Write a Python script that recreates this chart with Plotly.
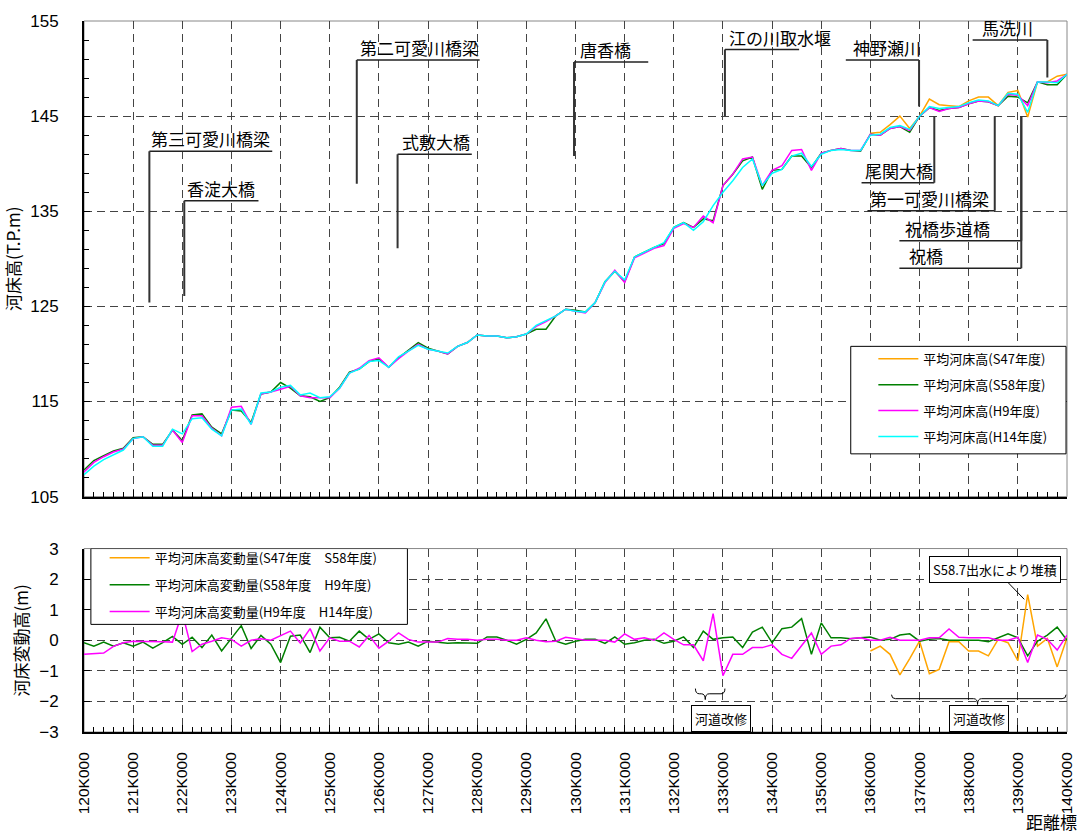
import plotly.graph_objects as go

# distance stations (km), every 200 m
DIST_KM = [
    120.0, 120.2, 120.4, 120.6, 120.8, 121.0, 121.2, 121.4, 121.6, 121.8,
    122.0, 122.2, 122.4, 122.6, 122.8, 123.0, 123.2, 123.4, 123.6, 123.8,
    124.0, 124.2, 124.4, 124.6, 124.8, 125.0, 125.2, 125.4, 125.6, 125.8,
    126.0, 126.2, 126.4, 126.6, 126.8, 127.0, 127.2, 127.4, 127.6, 127.8,
    128.0, 128.2, 128.4, 128.6, 128.8, 129.0, 129.2, 129.4, 129.6, 129.8,
    130.0, 130.2, 130.4, 130.6, 130.8, 131.0, 131.2, 131.4, 131.6, 131.8,
    132.0, 132.2, 132.4, 132.6, 132.8, 133.0, 133.2, 133.4, 133.6, 133.8,
    134.0, 134.2, 134.4, 134.6, 134.8, 135.0, 135.2, 135.4, 135.6, 135.8,
    136.0, 136.2, 136.4, 136.6, 136.8, 137.0, 137.2, 137.4, 137.6, 137.8,
    138.0, 138.2, 138.4, 138.6, 138.8, 139.0, 139.2, 139.4, 139.6, 139.8,
    140.0,
]
DIST_KM_S47 = DIST_KM[80:]  # S47 survey only covers 136K-140K

TICK_KM = [120, 121, 122, 123, 124, 125, 126, 127, 128, 129, 130,
           131, 132, 133, 134, 135, 136, 137, 138, 139, 140]
TICK_TEXT = ["120K000", "121K000", "122K000", "123K000", "124K000", "125K000",
             "126K000", "127K000", "128K000", "129K000", "130K000", "131K000",
             "132K000", "133K000", "134K000", "135K000", "136K000", "137K000",
             "138K000", "139K000", "140K000"]

# mean bed elevation (T.P. m)
BED_S47 = [
    143.2, 143.3, 144.1, 145.0, 143.7, 145.0, 146.8, 146.2, 146.1, 146.0,
    146.6, 147.0, 147.0, 146.1, 147.5, 147.7, 144.9, 148.6, 148.6, 149.2,
    149.4,
]
BED_S58 = [
    107.8, 108.8, 109.3, 109.8, 110.1, 111.2, 111.3, 110.5, 110.5, 112.0,
    110.9, 113.6, 113.7, 112.3, 111.6, 114.1, 114.0, 112.8, 115.8, 116.0,
    117.0, 116.4, 115.6, 115.5, 115.0, 115.4, 116.5, 118.1, 118.4, 119.2,
    119.5, 118.6, 119.6, 120.4, 121.2, 120.6, 120.3, 120.0, 120.8, 121.2,
    122.0, 121.9, 121.9, 121.7, 121.8, 122.1, 122.6, 122.6, 124.0, 124.7,
    124.6, 124.4, 125.4, 127.6, 128.7, 127.6, 130.2, 130.7, 131.2, 131.6,
    133.3, 133.8, 133.3, 134.2, 134.0, 137.7, 138.9, 140.3, 140.7, 137.3,
    139.3, 139.4, 140.8, 140.8, 139.6, 141.1, 141.4, 141.6, 141.4, 141.3,
    143.1, 143.0, 143.7, 143.9, 143.3, 145.0, 145.9, 145.6, 145.8, 145.9,
    146.3, 146.6, 146.5, 146.1, 147.1, 147.0, 146.4, 148.6, 148.3, 148.3,
    149.4,
]
BED_H9 = [
    107.6, 108.6, 109.2, 109.7, 110.0, 111.1, 111.3, 110.4, 110.4, 112.0,
    110.7, 113.5, 113.5, 112.2, 111.4, 114.4, 114.5, 112.6, 115.8, 116.0,
    116.3, 116.6, 115.6, 115.4, 115.4, 115.4, 116.4, 118.0, 118.5, 119.3,
    119.6, 118.6, 119.5, 120.3, 121.0, 120.5, 120.3, 120.0, 120.8, 121.2,
    122.0, 121.9, 121.9, 121.7, 121.8, 122.1, 122.9, 123.4, 124.0, 124.7,
    124.5, 124.3, 125.4, 127.5, 128.8, 127.5, 130.1, 130.6, 131.1, 131.4,
    133.2, 133.7, 133.3, 134.5, 133.8, 137.7, 138.9, 140.5, 140.7, 137.7,
    139.3, 139.8, 141.4, 141.5, 139.3, 141.1, 141.4, 141.6, 141.4, 141.4,
    143.1, 143.0, 143.7, 143.9, 143.5, 145.0, 145.9, 145.5, 145.8, 145.9,
    146.3, 146.6, 146.5, 146.1, 147.3, 147.2, 146.1, 148.6, 148.5, 148.7,
    149.4,
]
BED_H14 = [
    107.3, 108.2, 108.9, 109.4, 109.9, 111.1, 111.3, 110.3, 110.3, 112.1,
    111.6, 113.2, 113.3, 112.1, 111.4, 114.1, 114.2, 112.6, 115.9, 116.0,
    116.5, 116.7, 115.7, 115.9, 115.4, 115.5, 116.4, 118.0, 118.4, 119.2,
    119.3, 118.6, 119.7, 120.3, 120.9, 120.5, 120.3, 120.1, 120.8, 121.2,
    122.0, 121.9, 121.9, 121.7, 121.8, 122.1, 123.0, 123.5, 124.0, 124.7,
    124.5, 124.4, 125.4, 127.6, 128.7, 127.8, 130.2, 130.7, 131.2, 131.7,
    133.3, 133.8, 133.0, 133.9, 135.6, 137.0, 138.2, 139.6, 140.5, 137.7,
    139.0, 139.4, 140.8, 141.1, 139.7, 141.0, 141.4, 141.5, 141.4, 141.4,
    143.0, 143.1, 143.8, 144.0, 143.6, 145.0, 146.0, 145.8, 145.9, 146.0,
    146.4, 146.7, 146.6, 146.1, 147.4, 147.3, 145.4, 148.6, 148.6, 148.5,
    149.4,
]

# change of mean bed elevation (m)
CHG_S47_S58 = [
    -0.35, -0.19, -0.46, -1.13, -0.60, -0.03, -1.09, -0.95, -0.05, -0.05,
    -0.35, -0.35, -0.51, 0.03, -0.08, -0.67, 1.49, -0.19, 0.06, -0.87,
    0.08,
]
CHG_S58_H9 = [
    -0.08, -0.19, -0.06, -0.19, -0.08, -0.19, -0.06, -0.26, -0.08, 0.13,
    -0.13, 0.10, -0.24, 0.17, -0.35, 0.05, 0.48, -0.27, 0.16, -0.13,
    -0.73, 0.13, 0.17, -0.40, 0.43, 0.08, 0.10, -0.03, 0.30, 0.03,
    0.21, -0.08, -0.13, -0.06, -0.19, -0.03, -0.06, -0.10, -0.08, -0.10,
    -0.10, 0.11, 0.11, 0.00, -0.13, 0.03, 0.24, 0.70, -0.03, -0.13,
    -0.03, 0.03, 0.03, -0.10, 0.11, -0.13, -0.08, 0.00, 0.03, -0.10,
    -0.03, 0.11, -0.24, 0.30, 0.03, 0.08, 0.11, -0.24, 0.27, 0.43,
    -0.08, 0.38, 0.43, 0.71, -0.46, 0.57, 0.08, 0.08, 0.05, 0.08,
    0.11, 0.00, 0.03, 0.17, 0.21, -0.03, 0.03, 0.06, 0.00, 0.00,
    0.00, 0.00, -0.05, 0.08, 0.21, 0.08, -0.51, -0.03, 0.17, 0.43,
    0.00,
]
CHG_H9_H14 = [
    -0.46, -0.44, -0.42, -0.20, -0.08, -0.03, -0.03, -0.03, -0.05, -0.06,
    0.90, -0.37, -0.13, -0.03, 0.08, 0.03, -0.19, 0.00, 0.05, 0.00,
    0.16, 0.30, -0.09, 0.38, -0.35, 0.08, -0.03, -0.03, -0.22, 0.16,
    -0.26, -0.03, 0.24, 0.03, -0.06, -0.06, -0.06, 0.06, 0.03, 0.03,
    0.00, 0.03, 0.03, 0.00, 0.00, 0.08, 0.00, -0.05, -0.03, 0.10,
    0.05, 0.00, 0.00, 0.00, -0.06, 0.21, 0.03, 0.08, 0.00, 0.24,
    0.03, -0.15, -0.15, -0.67, 0.87, -1.16, -0.46, -0.46, -0.24, -0.24,
    -0.15, -0.46, -0.59, -0.19, 0.24, -0.46, -0.19, -0.15, 0.06, 0.08,
    0.00, 0.00, 0.10, 0.00, 0.00, 0.00, 0.08, 0.08, 0.37, 0.10,
    0.08, 0.08, 0.08, 0.00, 0.00, 0.10, -0.73, 0.17, 0.03, -0.32,
    0.17,
]

ORANGE = "#FFA500"
GREEN = "#008000"
MAGENTA = "#FF00FF"
CYAN = "#00FFFF"

FONT = "Liberation Sans, Arial, Noto Sans CJK JP, sans-serif"
JFONT = "Noto Sans CJK JP, Liberation Sans, sans-serif"

# bridge / tributary labels: text, text-left x, underline y, line x0, x1, leader x, leader end y
BRIDGES = [
    ("第三可愛川橋梁", 121.33, 141.3, 121.33, 123.83, 121.33, 125.4),
    ("香淀大橋", 122.06, 136.1, 122.04, 123.55, 122.04, 126.1),
    ("第二可愛川橋梁", 125.57, 150.9, 125.55, 128.05, 125.55, 137.9),
    ("式敷大橋", 126.42, 141.0, 126.38, 127.89, 126.38, 131.1),
    ("唐香橋", 130.05, 150.7, 129.97, 131.48, 129.97, 140.8),
    ("江の川取水堰", 133.08, 152.0, 133.04, 134.55, 133.04, 145.0),
    ("神野瀬川", 135.6, 150.9, 135.5, 136.99, 136.99, 146.0),
    ("馬洗川", 138.22, 153.0, 138.08, 139.6, 139.6, 149.05),
    ("尾関大橋", 135.84, 138.0, 135.82, 137.3, 137.3, 145.0),
    ("第一可愛川橋梁", 135.96, 135.06, 135.94, 138.53, 138.53, 145.0),
    ("祝橋歩道橋", 136.67, 131.9, 136.59, 139.07, 139.07, 145.0),
    ("祝橋", 136.75, 129.0, 136.59, 139.07, 139.07, 145.0),
]


def brace_path(x0, x1, xm, y, y_end, y_tip, r=0.08):
    return (
        f"M {x0},{y_end} Q {x0},{y} {x0 + r},{y} L {xm - r},{y} "
        f"Q {xm},{y} {xm},{y_tip} Q {xm},{y} {xm + r},{y} "
        f"L {x1 - r},{y} Q {x1},{y} {x1},{y_end}"
    )


fig = go.Figure()

top_series = [
    ("平均河床高(S47年度)", DIST_KM_S47, BED_S47, ORANGE),
    ("平均河床高(S58年度)", DIST_KM, BED_S58, GREEN),
    ("平均河床高(H9年度)", DIST_KM, BED_H9, MAGENTA),
    ("平均河床高(H14年度)", DIST_KM, BED_H14, CYAN),
]
for name, xs, ys, color in top_series:
    fig.add_trace(go.Scatter(
        x=xs, y=ys, name=name, mode="lines", legendgroup=name,
        line=dict(color=color, width=1.5), xaxis="x", yaxis="y", legend="legend",
    ))

bottom_series = [
    ("平均河床高変動量(S47年度　S58年度)", DIST_KM_S47, CHG_S47_S58, ORANGE),
    ("平均河床高変動量(S58年度　H9年度)", DIST_KM, CHG_S58_H9, GREEN),
    ("平均河床高変動量(H9年度　H14年度)", DIST_KM, CHG_H9_H14, MAGENTA),
]
for name, xs, ys, color in bottom_series:
    fig.add_trace(go.Scatter(
        x=xs, y=ys, name=name, mode="lines", legendgroup=name,
        line=dict(color=color, width=1.5), xaxis="x2", yaxis="y2", legend="legend2",
    ))

grid = dict(showgrid=True, gridcolor="#444", gridwidth=1, griddash="8px,5px")
axis_common = dict(
    showline=True, linecolor="black", linewidth=2, zeroline=False,
    ticks="inside", tickcolor="black", tickwidth=1,
    tickfont=dict(family=FONT, size=17, color="black"),
)
x_minor = dict(tickmode="linear", tick0=120, dtick=0.2, ticks="inside",
               ticklen=5, tickcolor="black", showgrid=False)

fig.update_layout(
    width=1087, height=833,
    margin=dict(l=82, r=14, t=16, b=101),
    paper_bgcolor="white", plot_bgcolor="white",
    font=dict(family=FONT, size=13, color="black"),
    xaxis=dict(domain=[0, 1], anchor="y", range=[120, 140], tickvals=TICK_KM,
               showticklabels=False, ticklen=7, minor=x_minor, **grid, **axis_common),
    yaxis=dict(domain=[0.331, 1], anchor="x", range=[105, 155], tickmode="linear",
               tick0=105, dtick=10, ticklen=6, ticklabelstandoff=20,
               minor=dict(tickmode="linear", tick0=105, dtick=2, ticks="inside",
                          ticklen=5, tickcolor="black", showgrid=False),
               title=dict(text="河床高(T.P.m)", standoff=6,
                          font=dict(family=JFONT, size=17)),
               **grid, **axis_common),
    xaxis2=dict(domain=[0, 1], anchor="y2", matches="x", range=[120, 140],
                tickvals=TICK_KM, ticktext=TICK_TEXT, tickangle=-90, ticklen=7,
                ticklabelstandoff=12, minor=x_minor, **grid,
                **{**axis_common, "tickfont": dict(family=FONT, size=15.5, color="black")}),
    yaxis2=dict(domain=[0, 0.258], anchor="x2", range=[-3, 3], tickmode="linear",
                tick0=-3, dtick=1, ticklen=6, ticklabelstandoff=20,
                title=dict(text="河床変動高(m)", standoff=6,
                           font=dict(family=JFONT, size=17)),
                **grid, **axis_common),
    legend=dict(x=0.803, y=0.546, xanchor="left", yanchor="top",
                bgcolor="rgba(0,0,0,0)", borderwidth=0, traceorder="grouped",
                tracegroupgap=6, itemwidth=40,
                font=dict(family=JFONT, size=13, color="black")),
    legend2=dict(x=0.021, y=0.266, xanchor="left", yanchor="top",
                 bgcolor="rgba(0,0,0,0)", borderwidth=0, traceorder="grouped",
                 tracegroupgap=7, itemwidth=40,
                 font=dict(family=JFONT, size=13, color="black")),
)

shapes = [
    # light frame on top/right of each panel
    dict(type="rect", xref="x domain", yref="y domain", x0=0, x1=1, y0=0, y1=1,
         line=dict(color="#888", width=1), layer="below"),
    dict(type="rect", xref="x2 domain", yref="y2 domain", x0=0, x1=1, y0=0, y1=1,
         line=dict(color="#888", width=1), layer="below"),
    # legend boxes
    dict(type="rect", xref="x", yref="y", x0=135.6, x1=139.98, y0=109.5, y1=120.8,
         fillcolor="white", line=dict(color="black", width=1), layer="above"),
    dict(type="rect", xref="x2", yref="y2", x0=120.14, x1=126.58, y0=0.52, y1=3.0,
         fillcolor="white", line=dict(color="black", width=1), layer="above"),
    # braces for 河道改修
    dict(type="path", xref="x2", yref="y2",
         path=brace_path(132.44, 133.04, 132.64, -1.75, -1.58, -1.94),
         line=dict(color="black", width=1)),
    dict(type="path", xref="x2", yref="y2",
         path=brace_path(136.43, 139.98, 138.18, -1.91, -1.78, -2.1),
         line=dict(color="black", width=1)),
]

annotations = []
for text, tx, ly, lx0, lx1, vx, vy in BRIDGES:
    shapes.append(dict(type="line", xref="x", yref="y", x0=lx0, x1=lx1, y0=ly, y1=ly,
                       line=dict(color="#222", width=1.5)))
    shapes.append(dict(type="line", xref="x", yref="y", x0=vx, x1=vx, y0=ly, y1=vy,
                       line=dict(color="#333", width=2)))
    annotations.append(dict(text=text, x=tx, y=ly, xref="x", yref="y",
                            xanchor="left", yanchor="bottom", showarrow=False,
                            yshift=-2, font=dict(family=JFONT, size=17, color="black")))

box = dict(bordercolor="black", borderwidth=1, bgcolor="white", borderpad=3,
           font=dict(family=JFONT, size=13, color="black"))
annotations += [
    dict(text="河道改修", x=132.96, y=-2.56, xref="x2", yref="y2", showarrow=False, **box),
    dict(text="河道改修", x=138.2, y=-2.56, xref="x2", yref="y2", showarrow=False, **box),
    dict(text="S58.7出水により堆積", x=139.13, y=1.34, xref="x2", yref="y2",
         showarrow=True, arrowhead=0, arrowwidth=1, arrowcolor="black",
         ax=-29, ay=-30, standoff=0, **box),
    dict(text="距離標", x=0.984, y=-0.126, xref="paper", yref="paper",
         xanchor="center", yanchor="middle", showarrow=False,
         font=dict(family=JFONT, size=17, color="black")),
]

fig.update_layout(shapes=shapes, annotations=annotations)

fig.write_html("out.html", config={"displayModeBar": False},
               post_script="document.body.style.margin='0';")
